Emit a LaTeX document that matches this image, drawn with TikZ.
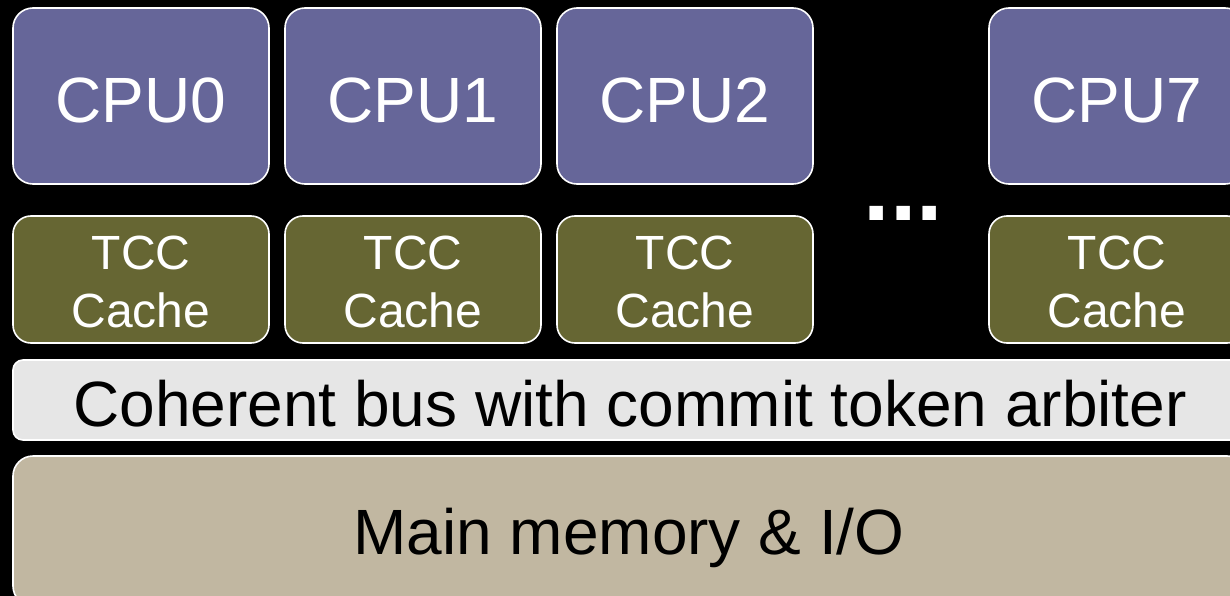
\documentclass[tikz,border=0pt]{standalone}
\usepackage{fontspec}
\setmainfont{Liberation Sans}
\definecolor{cpufill}{RGB}{102,102,153}
\definecolor{tccfill}{RGB}{102,102,51}
\definecolor{busfill}{RGB}{230,230,230}
\definecolor{memfill}{RGB}{193,183,161}
\tikzset{
  boxline/.style={draw=white, line width=1.6pt, inner sep=0pt},
  cpubox/.style={boxline, fill=cpufill, rounded corners=20pt,
    minimum width=256pt, minimum height=176pt},
  tccbox/.style={boxline, fill=tccfill, rounded corners=18pt,
    minimum width=256pt, minimum height=127pt},
  busbox/.style={boxline, fill=busfill, rounded corners=10pt,
    minimum width=1234pt, minimum height=80pt},
  membox/.style={boxline, fill=memfill, rounded corners=20pt,
    minimum width=1234pt, minimum height=150pt},
  bigtext/.style={anchor=base, inner sep=0pt, font=\fontsize{64}{76}\selectfont},
  tcctext/.style={anchor=center, inner sep=0pt, align=center, text=white,
    font=\fontsize{48}{58}\selectfont},
}
\begin{document}
\begin{tikzpicture}[x=1pt,y=-1pt]
\fill[black] (0,0) rectangle (1230,596);
\useasboundingbox (0,0) rectangle (1230,596);
\clip (0,0) rectangle (1230,596);
% CPUs
\node[cpubox] (cpu0) at (141,96) {};
\node[cpubox] (cpu1) at (413,96) {};
\node[cpubox] (cpu2) at (685,96) {};
\node[cpubox] (cpu7) at (1117,96) {};
\node[bigtext, text=white] (cpu0t) at (140.5,122.7) {CPU0};
\node[bigtext, text=white] (cpu1t) at (412.5,122.7) {CPU1};
\node[bigtext, text=white] (cpu2t) at (684.5,122.7) {CPU2};
\node[bigtext, text=white] (cpu7t) at (1116.5,122.7) {CPU7};
% caches
\node[tccbox] (tcc0) at (141,279.5) {};
\node[tccbox] (tcc1) at (413,279.5) {};
\node[tccbox] (tcc2) at (685,279.5) {};
\node[tccbox] (tcc7) at (1117,279.5) {};
\node[tcctext] (tcc0t) at (141,281.5) {TCC\\Cache};
\node[tcctext] (tcc1t) at (413,281.5) {TCC\\Cache};
\node[tcctext] (tcc2t) at (685,281.5) {TCC\\Cache};
\node[tcctext] (tcc7t) at (1117,281.5) {TCC\\Cache};
% ellipsis
\node[anchor=base, inner sep=0pt, text=white, font=\fontsize{95}{95}\selectfont\bfseries] (dots) at (903.5,220.5) {...};
% bus and memory
\node[busbox] (bus) at (630,400) {};
\node[bigtext, text=black] (bust) at (630,426) {Coherent bus with commit token arbiter};
\node[membox] (mem) at (630,531) {};
\node[bigtext, text=black] (memt) at (629,554) {Main memory \& I/O};
\end{tikzpicture}
\end{document}
